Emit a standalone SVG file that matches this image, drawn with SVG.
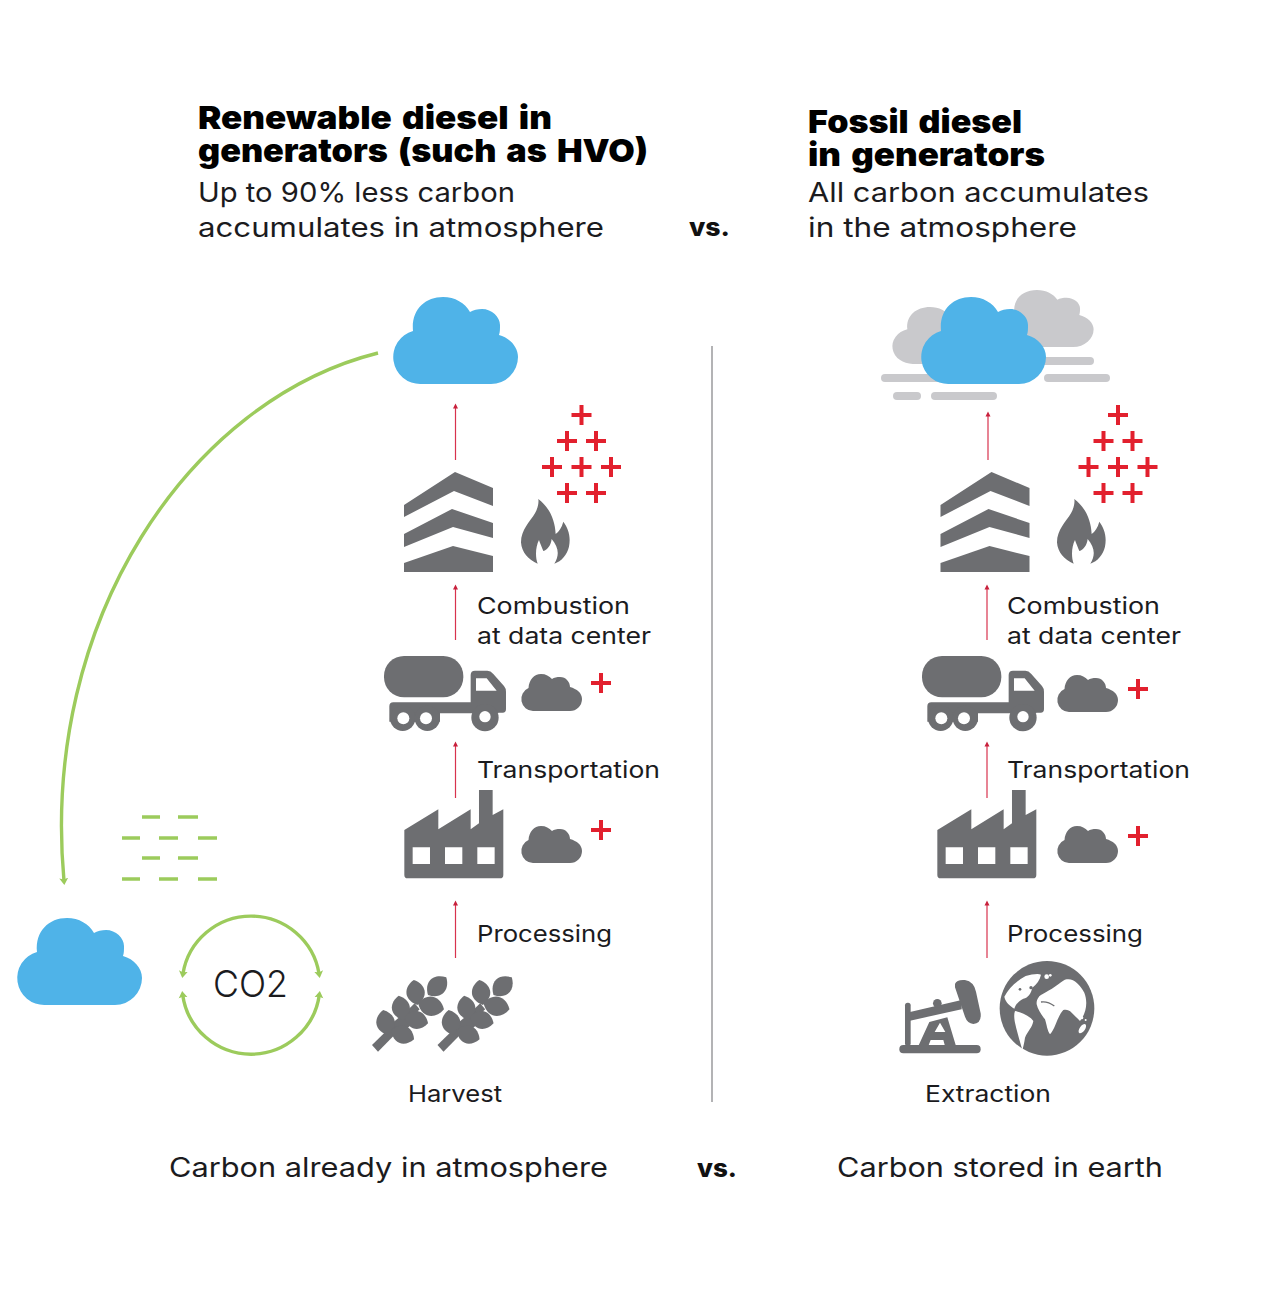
<svg xmlns="http://www.w3.org/2000/svg" width="1270" height="1297" viewBox="0 0 1270 1297">
<style>
text{font-family:Inter,"Liberation Sans",sans-serif;fill:#1b1b1e}
.h{font-size:32px;font-weight:900;fill:#000;word-spacing:3px}
.s{font-size:27px;font-weight:400}
.l{font-size:23px;font-weight:400}
.v{font-size:25px;font-weight:800;fill:#111}
.g{fill:#6d6e71}
.b{fill:#4fb3e8}
.lg{fill:#c9c9cc}
.gr{fill:none;stroke:#9ccb5c;stroke-width:3.400}
.d{stroke:#9ccb5c;stroke-width:3.400;fill:none}
.r{stroke:#d8324e;stroke-width:1.200;fill:none;marker-end:url(#ra)}
</style>
<defs>
<marker id="ra" markerUnits="userSpaceOnUse" markerWidth="8" markerHeight="8" refX="2.500" refY="3" orient="auto"><path d="M0 0.500L5 3L0 5.500Z" fill="#c8203c"/></marker>
<marker id="ga" markerUnits="userSpaceOnUse" markerWidth="14" markerHeight="14" refX="3" refY="5" orient="auto-start-reverse"><path d="M0 0.500L7 5L0 9.500L1.500 5Z" fill="#9ccb5c"/></marker>
<path id="cloud" d="M27 87A27 27 0 0 1 19 34C17 13 31 0 49 0C61 0 71 6 76 15C79 13 84 12 88 12C98 12 106 20 106 28C106 32 106 35 105 38C116 41 124 50 124 60A27 27 0 0 1 97 87Z"/>
<path id="sc" d="M12 37A12 12 0 0 1 7.500 14C8 6 13 0 20 0C25 0 28 2 31 5C33 3.500 36 3 39 3C45 3 49 8 49 13C56 15 61 19 61 25A12 12 0 0 1 49 37Z"/>
<path id="plus" d="M-2 -10H2V-2H10V2H2V10H-2V2H-10V-2H-2Z" fill="#e2202e"/>
<g id="plusses"><use href="#plus" x="581.500" y="415"/><use href="#plus" x="567" y="441"/><use href="#plus" x="596" y="441"/><use href="#plus" x="552" y="467"/><use href="#plus" x="581.500" y="467"/><use href="#plus" x="611" y="467"/><use href="#plus" x="567" y="493"/><use href="#plus" x="596" y="493"/></g>
<g id="chev" class="g"><path d="M404 505L455 472L493 488V506L454 491L404 517Z"/><path d="M404 534L452 509L493 523V538L453 527L404 547Z"/><path d="M404 563L453 546L493 556V572H404Z"/></g>
<path id="flame" class="g" transform="translate(395 465) scale(.3333)" d="M430 102C465 130 480 165 482 207C492 200 500 188 505 170C520 190 528 215 522 245C516 270 500 288 478 296C495 270 490 245 470 222C468 240 458 255 445 258C440 245 435 235 432 225C422 245 420 275 428 296C400 285 380 262 378 232C378 195 405 170 420 145C428 130 432 115 430 102Z"/>
<g id="truck" transform="translate(380 650) scale(.3333)"><g class="g"><rect x="12" y="18" width="238" height="124" rx="60"/><path fill-rule="evenodd" d="M40 157H272V75Q272 62 285 62H322Q332 62 340 72L372 108Q378 115 378 125V178Q378 188 368 188H355V190H180V215H28V169Q28 157 40 157ZM288 85V122H350L320 85Z"/><circle cx="68" cy="205" r="38"/><circle cx="142" cy="205" r="38"/><circle cx="315" cy="203" r="41"/></g><g fill="#fff"><circle cx="70" cy="205" r="18"/><circle cx="138" cy="205" r="18"/><circle cx="315" cy="200" r="17"/></g></g>
<path id="factory" class="g" fill-rule="evenodd" transform="translate(370 640) scale(.3333)" d="M103 570L205 508V568L302 508V568L327 550V450H368V525L400 508V705Q400 715 390 715H113Q103 715 103 705ZM128 622V672H180V622ZM225 622V672H277V622ZM322 622V672H374V622Z"/>
<path id="leaf" d="M0 0C18 -34 50 -28 64 0C50 28 18 34 0 0Z"/>
<g id="ear" class="g" transform="translate(368 970) scale(.3333)">
<path d="M12 225L30 245L155 118L140 100Z"/>
<path d="M60 170L120 120L145 150L85 205Z"/>
<use href="#leaf" transform="translate(180 75) rotate(-44) scale(1.19)"/>
<use href="#leaf" transform="translate(148 105) rotate(-98) scale(1.18)"/>
<use href="#leaf" transform="translate(150 100) rotate(13) scale(1.25)"/>
<use href="#leaf" transform="translate(105 150) rotate(-100) scale(1.16)"/>
<use href="#leaf" transform="translate(110 140) rotate(16) scale(1.14)"/>
<use href="#leaf" transform="translate(60 195) rotate(-101) scale(1.19)"/>
<use href="#leaf" transform="translate(70 180) rotate(22) scale(1.15)"/>
</g>
</defs>
<rect width="1270" height="1297" fill="#fff"/>

<g id="headings">
<text class="h"><tspan x="198" y="129" textLength="354" lengthAdjust="spacingAndGlyphs">Renewable diesel in</tspan><tspan x="198" y="162" textLength="450" lengthAdjust="spacingAndGlyphs">generators (such as HVO)</tspan></text>
<text class="s" x="198" y="202" textLength="317" lengthAdjust="spacingAndGlyphs">Up to 90% less carbon</text>
<text class="s" x="198" y="237" textLength="406" lengthAdjust="spacingAndGlyphs">accumulates in atmosphere</text>
<text class="h"><tspan x="808" y="133" textLength="214" lengthAdjust="spacingAndGlyphs">Fossil diesel</tspan><tspan x="808" y="166" textLength="237" lengthAdjust="spacingAndGlyphs">in generators</tspan></text>
<text class="s" x="808" y="202" textLength="341" lengthAdjust="spacingAndGlyphs">All carbon accumulates</text>
<text class="s" x="808" y="237" textLength="269" lengthAdjust="spacingAndGlyphs">in the atmosphere</text>
<text class="v" x="689" y="236" textLength="41" lengthAdjust="spacingAndGlyphs">vs.</text>
<text class="s" x="169" y="1177" textLength="439" lengthAdjust="spacingAndGlyphs">Carbon already in atmosphere</text>
<text class="v" x="697" y="1177" textLength="40" lengthAdjust="spacingAndGlyphs">vs.</text>
<text class="s" x="837" y="1177" textLength="326" lengthAdjust="spacingAndGlyphs">Carbon stored in earth</text>
</g>

<g id="connectors">
<path class="gr" marker-end="url(#ga)" d="M378 353C190 400 40 620 64 881"/>
<path class="gr" marker-start="url(#ga)" marker-end="url(#ga)" d="M319.100 974A69 69 0 0 0 182.900 974"/>
<path class="gr" marker-start="url(#ga)" marker-end="url(#ga)" d="M182.700 995A69 69 0 0 0 319.300 995"/>
<path class="r" d="M455.500 460V406"/><path class="r" d="M455.500 640V587"/><path class="r" d="M455.500 798V744"/><path class="r" d="M455.500 958V903"/>
<path class="r" d="M988 460V414"/><path class="r" d="M987 640V587"/><path class="r" d="M987 798V744"/><path class="r" d="M987 958V903"/>
<path stroke="#9a9a9d" stroke-width="1.500" fill="none" d="M712 346V1102"/>
</g>

<g id="atmosphere-dashes" class="d"><path d="M142 817H160M178 817H198M122 838H140M159 838H178M198 838H217M142 858H160M178 858H198M122 879H140M159 879H178M198 879H217"/></g>
<g id="cloud-ground"><use href="#cloud" class="b" x="18" y="918"/></g>
<g id="co2"><text x="250.500" y="997" text-anchor="middle" font-size="37" font-weight="300" textLength="75" lengthAdjust="spacingAndGlyphs">CO2</text></g>

<g id="renewable">
<g id="r-cloud"><use href="#cloud" class="b" x="394" y="297"/></g>
<g id="r-combustion"><use href="#chev"/><use href="#flame"/><use href="#plusses"/>
<text class="l" x="477" y="614" textLength="153" lengthAdjust="spacingAndGlyphs">Combustion</text>
<text class="l" x="477" y="644" textLength="174" lengthAdjust="spacingAndGlyphs">at data center</text></g>
<g id="r-transport"><use href="#truck"/><use href="#sc" class="g" x="521" y="674"/><use href="#plus" x="601" y="683"/>
<text class="l" x="477" y="778" textLength="183" lengthAdjust="spacingAndGlyphs">Transportation</text></g>
<g id="r-processing"><use href="#factory"/><use href="#sc" class="g" x="521" y="826"/><use href="#plus" x="601" y="830"/>
<text class="l" x="477" y="942" textLength="135" lengthAdjust="spacingAndGlyphs">Processing</text></g>
<g id="r-harvest"><use href="#ear"/><use href="#ear" x="65.500"/>
<text class="l" x="408" y="1102" textLength="94" lengthAdjust="spacingAndGlyphs">Harvest</text></g>
</g>

<g id="fossil">
<g id="f-cloud">
<use href="#cloud" class="lg" transform="translate(1000 290) scale(.755 .655)"/>
<use href="#cloud" class="lg" transform="translate(893 307) scale(.755 .655)"/>
<rect class="lg" x="1030" y="357" width="64" height="8" rx="4"/>
<rect class="lg" x="881" y="374" width="70" height="8" rx="4"/>
<rect class="lg" x="1044" y="374" width="66" height="8" rx="4"/>
<rect class="lg" x="893" y="392" width="28" height="8" rx="4"/>
<rect class="lg" x="931" y="392" width="66" height="8" rx="4"/>
<use href="#cloud" class="b" x="922" y="297"/></g>
<g id="f-combustion"><use href="#chev" x="536.500"/><use href="#flame" x="536"/><use href="#plusses" x="536.500"/>
<text class="l" x="1007" y="614" textLength="153" lengthAdjust="spacingAndGlyphs">Combustion</text>
<text class="l" x="1007" y="644" textLength="174" lengthAdjust="spacingAndGlyphs">at data center</text></g>
<g id="f-transport"><use href="#truck" x="538"/><use href="#sc" class="g" x="1057" y="675"/><use href="#plus" x="1138" y="689"/>
<text class="l" x="1007" y="778" textLength="183" lengthAdjust="spacingAndGlyphs">Transportation</text></g>
<g id="f-processing"><use href="#factory" x="533"/><use href="#sc" class="g" x="1057" y="826"/><use href="#plus" x="1138" y="836"/>
<text class="l" x="1007" y="942" textLength="136" lengthAdjust="spacingAndGlyphs">Processing</text></g>
<g id="f-extraction">
<g class="g" transform="translate(890 970) scale(.3333)">
<rect x="28" y="225" width="244" height="25" rx="12"/>
<rect x="45" y="98" width="17" height="130" rx="8"/>
<path d="M60 126L215 90V118L60 152Z"/>
<circle cx="142" cy="100" r="13"/>
<path d="M195 42Q200 28 225 30Q252 35 258 65L272 130Q275 160 250 162Q232 160 225 140L195 52Z"/>
<path fill-rule="evenodd" d="M85 228L118 156L172 142L198 228H165L160 210H122L115 228ZM150 158L134 186H166Z"/>
</g>
<g transform="translate(995 956) scale(.3333)">
<circle class="g" cx="156" cy="157" r="142"/>
<g fill="#fff">
<path d="M130 125C135 115 165 105 190 85C200 78 208 70 215 70C235 66 255 85 268 110C278 135 276 170 255 195C250 190 240 180 230 170C222 162 215 160 205 162C197 170 190 185 182 205C176 220 170 230 165 235C157 225 155 205 150 190C140 178 128 160 125 145C124 135 127 130 130 125Z"/>
<path d="M28 122C42 95 65 75 92 60C110 55 130 52 138 56C135 72 125 85 112 95C108 112 100 125 85 128C72 135 62 145 58 158C45 150 32 140 28 122Z"/>
<path d="M60 165C78 168 105 180 115 195C112 215 98 225 90 245C88 260 85 272 82 282C75 255 65 225 60 200C58 190 56 175 60 165Z"/>
<ellipse cx="262" cy="218" rx="8" ry="16" transform="rotate(35 262 218)"/>
<circle cx="155" cy="62" r="7"/><circle cx="166" cy="58" r="4"/><circle cx="260" cy="185" r="5"/><circle cx="272" cy="192" r="3"/>
</g>
<path d="M138 138Q158 135 178 150" stroke="#6d6e71" stroke-width="4" fill="none"/>
<circle class="g" cx="75" cy="100" r="4"/><circle class="g" cx="108" cy="95" r="5"/>
</g>
<text class="l" x="925" y="1102" textLength="126" lengthAdjust="spacingAndGlyphs">Extraction</text></g>
</g>
</svg>
